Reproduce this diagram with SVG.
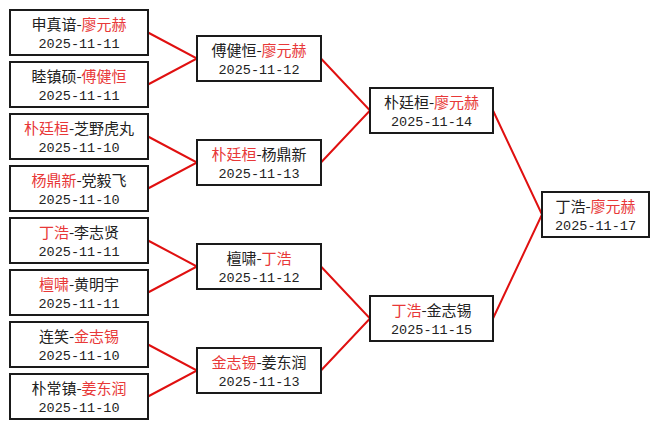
<svg xmlns="http://www.w3.org/2000/svg" width="659" height="429" viewBox="0 0 659 429">
<style>
.bg{fill:#fff}
.box{fill:#fff;stroke:#1a1a1a;stroke-width:2}
.nm{font-family:"Noto Sans CJK SC","Liberation Sans",sans-serif;font-size:15px;fill:#222;text-anchor:middle}
.dt{font-family:"Liberation Mono",monospace;font-size:13.5px;fill:#222;text-anchor:middle}
.w{fill:#e83838}
.ln{stroke:#e01010;stroke-width:2;fill:none}
</style>
<rect class="bg" width="659" height="429"/>
<g id="connectors">
<path class="ln" d="M148,32.5L197,58.5L148,84.5M148,136.5L197,162.5L148,188.5M148,240.5L197,266.5L148,292.5M148,344.5L197,370.5L148,396.5"/>
<path class="ln" d="M321,58.5L370,110.5L321,162.5M321,266.5L370,318.5L321,370.5"/>
<path class="ln" d="M493,110.5L542,214.5L493,318.5"/>
</g>
<g id="r1-1"><rect class="box" x="10" y="10" width="138" height="45"/><text class="nm" x="79" y="30">申真谙-<tspan class="w">廖元赫</tspan></text><text class="dt" x="79" y="48">2025-11-11</text></g>
<g id="r1-2"><rect class="box" x="10" y="62" width="138" height="45"/><text class="nm" x="79" y="82">睦镇硕-<tspan class="w">傅健恒</tspan></text><text class="dt" x="79" y="100">2025-11-11</text></g>
<g id="r1-3"><rect class="box" x="10" y="114" width="138" height="45"/><text class="nm" x="79" y="134"><tspan class="w">朴廷桓</tspan>-芝野虎丸</text><text class="dt" x="79" y="152">2025-11-10</text></g>
<g id="r1-4"><rect class="box" x="10" y="166" width="138" height="45"/><text class="nm" x="79" y="186"><tspan class="w">杨鼎新</tspan>-党毅飞</text><text class="dt" x="79" y="204">2025-11-10</text></g>
<g id="r1-5"><rect class="box" x="10" y="218" width="138" height="45"/><text class="nm" x="79" y="238"><tspan class="w">丁浩</tspan>-李志贤</text><text class="dt" x="79" y="256">2025-11-11</text></g>
<g id="r1-6"><rect class="box" x="10" y="270" width="138" height="45"/><text class="nm" x="79" y="290"><tspan class="w">檀啸</tspan>-黄明宇</text><text class="dt" x="79" y="308">2025-11-11</text></g>
<g id="r1-7"><rect class="box" x="10" y="322" width="138" height="45"/><text class="nm" x="79" y="342">连笑-<tspan class="w">金志锡</tspan></text><text class="dt" x="79" y="360">2025-11-10</text></g>
<g id="r1-8"><rect class="box" x="10" y="374" width="138" height="45"/><text class="nm" x="79" y="394">朴常镇-<tspan class="w">姜东润</tspan></text><text class="dt" x="79" y="412">2025-11-10</text></g>
<g id="r2-1"><rect class="box" x="197" y="36" width="124" height="45"/><text class="nm" x="259" y="56">傅健恒-<tspan class="w">廖元赫</tspan></text><text class="dt" x="259" y="74">2025-11-12</text></g>
<g id="r2-2"><rect class="box" x="197" y="140" width="124" height="45"/><text class="nm" x="259" y="160"><tspan class="w">朴廷桓</tspan>-杨鼎新</text><text class="dt" x="259" y="178">2025-11-13</text></g>
<g id="r2-3"><rect class="box" x="197" y="244" width="124" height="45"/><text class="nm" x="259" y="264">檀啸-<tspan class="w">丁浩</tspan></text><text class="dt" x="259" y="282">2025-11-12</text></g>
<g id="r2-4"><rect class="box" x="197" y="348" width="124" height="45"/><text class="nm" x="259" y="368"><tspan class="w">金志锡</tspan>-姜东润</text><text class="dt" x="259" y="386">2025-11-13</text></g>
<g id="r3-1"><rect class="box" x="370" y="88" width="123" height="45"/><text class="nm" x="431.5" y="108">朴廷桓-<tspan class="w">廖元赫</tspan></text><text class="dt" x="431.5" y="126">2025-11-14</text></g>
<g id="r3-2"><rect class="box" x="370" y="296" width="123" height="45"/><text class="nm" x="431.5" y="316"><tspan class="w">丁浩</tspan>-金志锡</text><text class="dt" x="431.5" y="334">2025-11-15</text></g>
<g id="r4-1"><rect class="box" x="542" y="192" width="107" height="45"/><text class="nm" x="595.5" y="212">丁浩-<tspan class="w">廖元赫</tspan></text><text class="dt" x="595.5" y="230">2025-11-17</text></g>
</svg>
